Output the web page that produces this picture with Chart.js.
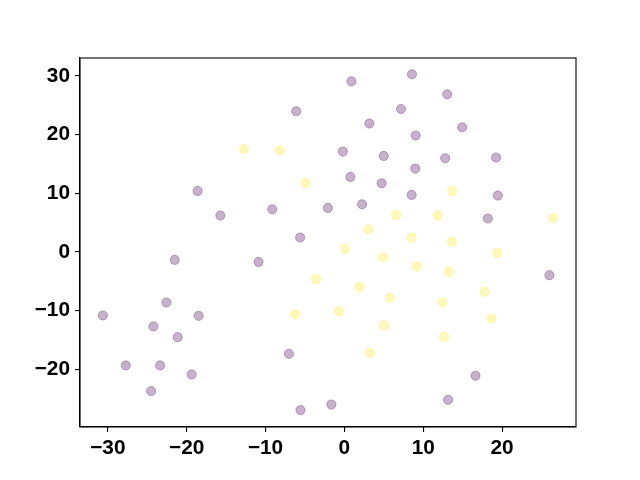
<!DOCTYPE html>
<html>
<head>
<meta charset="utf-8">
<script src="https://cdn.jsdelivr.net/npm/chart.js@4"></script>
<style>
html,body{margin:0;padding:0;background:#fff;}
#wrap{width:640px;height:480px;}
</style>
</head>
<body>
<div id="wrap"><canvas id="c" width="640" height="480"></canvas></div>
<script>
const xTicks = [-30, -20, -10, 0, 10, 20];
const yTicks = [-20, -10, 0, 10, 20, 30];

const purpleX = [-6.11, -18.61, -15.73, -9.15, -2.10, -5.61, 0.89, 8.57, 13.04, 7.18, 3.16, 14.94, 9.04, -0.20, 4.99, 12.78, 19.24, 8.99, 0.76, 4.73, 8.53, 19.46, 2.24, 18.19, 26.0, 16.63, 13.16, -1.65, -21.52, -10.89, -22.57, -30.63, -18.48, -24.22, -21.14, -7.04, -27.72, -23.37, -19.37, -24.51, -5.57];
const purpleY = [23.99, 10.41, 6.22, 7.29, 7.51, 2.47, 29.10, 30.29, 26.88, 24.38, 21.89, 21.26, 19.85, 17.12, 16.37, 15.98, 16.10, 14.22, 12.79, 11.72, 9.73, 9.62, 8.14, 5.71, -3.95, -21.1, -25.2, -26.0, -1.35, -1.69, -8.61, -10.82, -10.88, -12.69, -14.51, -17.36, -19.34, -19.34, -20.87, -23.71, -26.95];

const yellowX = [-12.73, -8.18, -4.94, 13.67, 6.58, 11.82, 26.46, 3.04, 8.53, 13.63, 0.05, 4.90, 19.37, 9.20, 13.21, 1.90, 5.78, 17.81, 12.45, -0.71, 18.66, 5.03, 12.66, 3.21, -3.58, -6.24];
const yellowY = [17.56, 17.34, 11.77, 10.41, 6.32, 6.22, 5.76, 3.88, 2.47, 1.79, 0.5, -0.89, -0.15, -2.47, -3.39, -5.94, -7.81, -6.79, -8.61, -10.09, -11.34, -12.47, -14.46, -17.19, -4.63, -10.6];

const xRange = [-33.53, 29.37];
const yRange = [-29.83, 33.07];

function toPts(xs, ys){ return xs.map((x,i)=>({x:x, y:ys[i]})); }

const fmt = v => (v < 0 ? '\u2212' + Math.abs(v) : String(v));

const frame = {
  id: 'frame',
  afterDraw(chart){
    const a = chart.chartArea, ctx = chart.ctx;
    ctx.save();
    ctx.strokeStyle = '#000';
    ctx.lineWidth = 1.1;
    ctx.strokeRect(a.left, a.top, a.right - a.left, a.bottom - a.top);
    ctx.restore();
  }
};

const tickFont = { family: '"Liberation Sans", Arial, sans-serif', size: 20.8, weight: 'bold' };

new Chart(document.getElementById('c'), {
  type: 'scatter',
  data: {
    datasets: [
      {
        data: toPts(purpleX, purpleY),
        backgroundColor: 'rgba(68,1,84,0.3)',
        borderColor: 'rgba(68,1,84,0.3)',
        borderWidth: 1,
        pointRadius: 4.6,
        pointHoverRadius: 4.6
      },
      {
        data: toPts(yellowX, yellowY),
        backgroundColor: 'rgba(253,231,37,0.3)',
        borderColor: 'rgba(253,231,37,0.3)',
        borderWidth: 1,
        pointRadius: 4.6,
        pointHoverRadius: 4.6
      }
    ]
  },
  options: {
    responsive: false,
    animation: false,
    devicePixelRatio: 1,
    layout: { padding: { top: 58, right: 64, left: 0, bottom: 0 } },
    plugins: { legend: { display: false }, tooltip: { enabled: false } },
    scales: {
      x: {
        type: 'linear',
        min: xRange[0], max: xRange[1],
        afterBuildTicks: s => { s.ticks = xTicks.map(v => ({value: v})); },
        afterFit: s => { s.height = 53; },
        grid: { display: true, drawOnChartArea: false, drawTicks: true, tickLength: 5, color: '#000', lineWidth: 1.1 },
        border: { display: true, color: '#000', width: 1.1 },
        ticks: { color: '#000', padding: 4, maxRotation: 0, autoSkip: false,
                 font: tickFont,
                 callback: v => fmt(v) }
      },
      y: {
        type: 'linear',
        min: yRange[0], max: yRange[1],
        afterBuildTicks: s => { s.ticks = yTicks.map(v => ({value: v})); },
        afterFit: s => { s.width = 80; },
        grid: { display: true, drawOnChartArea: false, drawTicks: true, tickLength: 5, color: '#000', lineWidth: 1.1 },
        border: { display: true, color: '#000', width: 1.1 },
        ticks: { color: '#000', padding: 5, autoSkip: false,
                 font: tickFont,
                 callback: v => fmt(v) }
      }
    }
  },
  plugins: [frame]
});
</script>
</body>
</html>
